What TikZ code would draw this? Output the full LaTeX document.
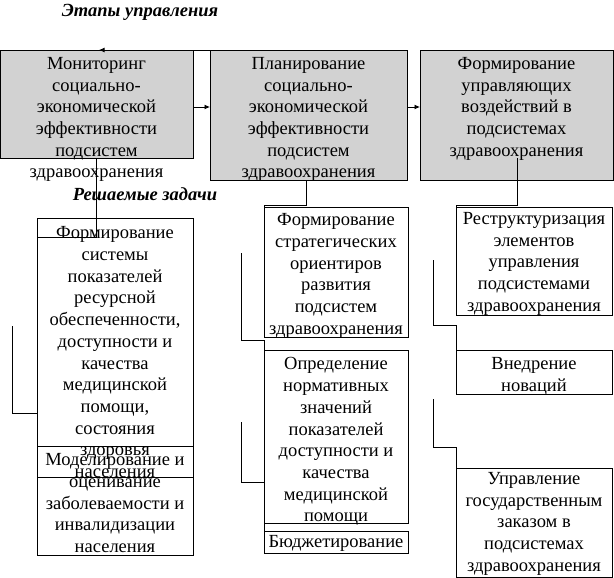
\documentclass[tikz,border=0pt]{standalone}
\usepackage{fontspec}
\setmainfont{Liberation Serif}
\usetikzlibrary{arrows.meta}
\begin{document}
\begin{tikzpicture}[x=1pt,y=-1pt,
  gbox/.style={draw=black,line width=0.9pt,fill=gray!35,inner sep=0pt,outer sep=0pt,anchor=north west},
  tbox/.style={draw=black,line width=0.9pt,inner sep=0pt,outer sep=0pt,anchor=north west},
  txt/.style={align=center,inner sep=0pt,anchor=north,font=\fontsize{18.5}{21.7}\selectfont},
  ttl/.style={inner sep=0pt,font=\fontsize{18.5}{21}\selectfont\bfseries\itshape},
  conn/.style={draw=black,line width=0.9pt},
  arr/.style={conn,-{Latex[length=5.5pt,width=5pt]}}]
\useasboundingbox (0,0) rectangle (614,578);
% titles
\node[ttl] (t1) at (140,12) {Этапы управления};
% top boxes
\node[gbox,minimum width=193pt,minimum height=108pt] (m) at (0.5,50) {};
\node[gbox,minimum width=197pt,minimum height=130pt] (p) at (210,50) {};
\node[gbox,minimum width=193pt,minimum height=130pt] (f) at (420,50) {};
% task boxes
\node[tbox,minimum width=156pt,minimum height=259pt] (a) at (37,218) {};
\node[tbox,minimum width=156pt,minimum height=109pt] (b) at (37,446) {};
\node[tbox,minimum width=144pt,minimum height=130pt] (c1) at (264,207) {};
\node[tbox,minimum width=144pt,minimum height=173pt] (c2) at (264,350) {};
\node[tbox,minimum width=144pt,minimum height=22pt] (c3) at (264,531) {};
\node[tbox,minimum width=156pt,minimum height=108pt] (d1) at (456,207) {};
\node[tbox,minimum width=156pt,minimum height=44pt] (d2) at (456,350) {};
\node[tbox,minimum width=156pt,minimum height=109pt] (d3) at (456,468) {};
% texts
\node[txt] (mt) at (96.5,57) {Мониторинг\\социально-\\экономической\\эффективности\\подсистем\\здравоохранения};
\node[txt] (pt) at (308.5,57) {Планирование\\социально-\\экономической\\эффективности\\подсистем\\здравоохранения};
\node[txt] (ft) at (516.5,57) {Формирование\\управляющих\\воздействий в\\подсистемах\\здравоохранения};
\node[ttl] (t2) at (145,194) {Решаемые задачи};
\node[txt] (at) at (115,226.5) {Формирование\\системы\\показателей\\ресурсной\\обеспеченности,\\доступности и\\качества\\медицинской\\помощи,\\состояния\\здоровья\\населения};
\node[txt] (bt) at (115,453.5) {Моделирование и\\оценивание\\заболеваемости и\\инвалидизации\\населения};
\node[txt] (c1t) at (336,213.5) {Формирование\\стратегических\\ориентиров\\развития\\подсистем\\здравоохранения};
\node[txt] (c2t) at (336,357.5) {Определение\\нормативных\\значений\\показателей\\доступности и\\качества\\медицинской\\помощи};
\node[txt] (c3t) at (336,535.5) {Бюджетирование};
\node[txt] (d1t) at (534,212) {Реструктуризация\\элементов\\управления\\подсистемами\\здравоохранения};
\node[txt] (d2t) at (534,357.5) {Внедрение\\новаций};
\node[txt] (d3t) at (534,472) {Управление\\государственным\\заказом в\\подсистемах\\здравоохранения};
% connector coordinates
\coordinate (ya) at (0,107);
\coordinate (fb) at (99,50);
\coordinate (m1) at (96,237);
\coordinate (l1s) at (12,326);
\coordinate (l1e) at (37,413);
\coordinate (p0) at (306,180);
\coordinate (p1) at (306,205);
\coordinate (p2) at (264,207);
\coordinate (k1s) at (241,253);
\coordinate (k1e) at (264,340);
\coordinate (k1f) at (264,350);
\coordinate (k2s) at (241,422);
\coordinate (k2e) at (264,482);
\coordinate (c2b) at (264,523);
\coordinate (c3a) at (264,531);
\coordinate (f0) at (517,158);
\coordinate (f1) at (517,205);
\coordinate (f2) at (456,207);
\coordinate (r1s) at (433,260);
\coordinate (r1e) at (456,325);
\coordinate (r1f) at (456,350);
\coordinate (r2s) at (433,399);
\coordinate (r2e) at (456,447);
\coordinate (r2f) at (456,468);
% connectors
\draw[arr] (ya -| m.east) -- (ya -| p.west);
\draw[arr] (ya -| p.east) -- (ya -| f.west);
\draw[arr] (p.north east) -- (fb);
\draw[conn] (m.south -| m1) -- (m1) -- (m1 -| a.west);
\draw[conn] (l1s) |- (l1e);
\draw[conn] (p0) -- (p1) -- (p1 -| p2) -- (p2);
\draw[conn] (k1s) |- (k1e) -- (k1f);
\draw[conn] (k2s) |- (k2e);
\draw[conn] (c2b) -- (c3a);
\draw[conn] (f0) -- (f1) -- (f1 -| f2) -- (f2);
\draw[conn] (r1s) |- (r1e) -- (r1f);
\draw[conn] (r2s) |- (r2e) -- (r2f);
\end{tikzpicture}
\end{document}
